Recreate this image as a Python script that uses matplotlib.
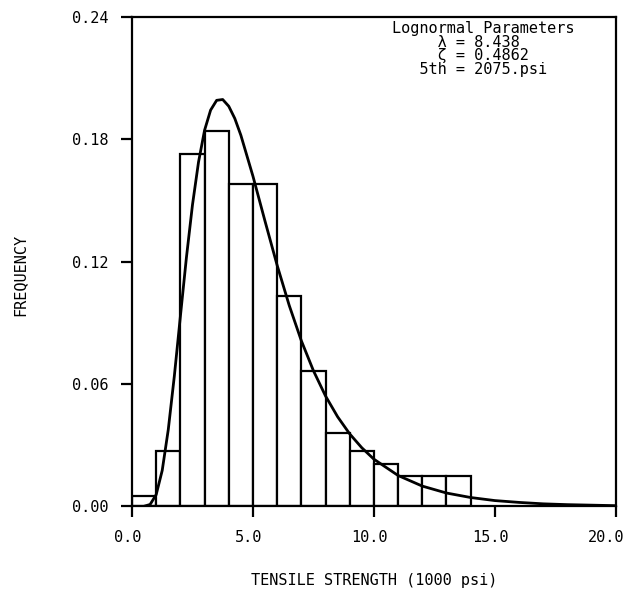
#!/usr/bin/python
# tensile strength histogram with lognormal fit

import matplotlib
matplotlib.use('Agg')
import matplotlib.pyplot as plt
import matplotlib.transforms as mtransforms

# histogram bins (1000 psi) and frequencies
bin_left = [0, 1, 2, 3, 4, 5, 6, 7, 8, 9, 10, 11, 12, 13]
freq = [0.005, 0.027, 0.173, 0.184, 0.158, 0.158, 0.103, 0.0665, 0.036, 0.027, 0.021, 0.015, 0.015, 0.015]

# fitted lognormal curve
curve_x = [0.5, 0.75, 1.0, 1.25, 1.5, 1.75, 2.0, 2.25, 2.5, 2.75, 3.0, 3.25, 3.5, 3.75,
           4.0, 4.25, 4.5, 5.0, 5.5, 6.0, 6.5, 7.0, 7.5, 8.0, 8.5, 9.0, 9.5, 10.0,
           11.0, 12.0, 13.0, 14.0, 15.0, 16.0, 17.0, 18.0, 20.0]
curve_y = [0.0001, 0.0010, 0.0058, 0.0177, 0.0377, 0.0639, 0.0932, 0.1221, 0.1479, 0.1689,
           0.1845, 0.1944, 0.1992, 0.1996, 0.1963, 0.1903, 0.1821, 0.1620, 0.1399, 0.1183,
           0.0986, 0.0813, 0.0666, 0.0542, 0.0440, 0.0356, 0.0288, 0.0232,
           0.0152, 0.0100, 0.0066, 0.0044, 0.0029, 0.0020, 0.0013, 0.0009, 0.0004]

xticks = [0.0, 5.0, 10.0, 15.0, 20.0]
yticks = [0.00, 0.06, 0.12, 0.18, 0.24]

param_block = ('Lognormal Parameters\n'
               '     \u03bb = 8.438\n'
               '     \u03b6 = 0.4862\n'
               '   5th = 2075.psi')

plt.rcParams['font.family'] = ['DejaVu Sans Mono']

fig = plt.figure(figsize=(6.3, 5.91), dpi=100)
ax = fig.add_axes([0.2095, 0.143, 0.768, 0.828])

# histogram bars
ax.bar(bin_left, freq, width=1.0, align='edge', color='white', edgecolor='black', linewidth=1.6, zorder=2)

# lognormal curve
ax.plot(curve_x, curve_y, color='black', linewidth=2.0, zorder=3)

ax.set_xlim(0, 20)
ax.set_ylim(0, 0.24)
ax.set_xticks(xticks)
ax.set_xticklabels(['%.1f' % t for t in xticks])
ax.set_yticks(yticks)
ax.set_yticklabels(['%.2f' % t for t in yticks])
ax.tick_params(direction='out', length=8, width=1.6, labelsize=11, pad=9)

# x tick labels sit a little left of their ticks
xlabs = ax.get_xticklabels()
for i, lab in enumerate(xlabs):
	dx = -10 if i == len(xlabs) - 1 else -4
	lab.set_transform(lab.get_transform() + mtransforms.ScaledTranslation(dx / 100.0, 0, fig.dpi_scale_trans))

for s in ax.spines.values():
	s.set_linewidth(1.6)

ax.set_xlabel('TENSILE STRENGTH (1000 psi)', fontsize=11, labelpad=20)
ax.set_ylabel('FREQUENCY', fontsize=11)
ax.yaxis.set_label_coords(-0.217, 0.473)

# parameter block
ax.text(10.74, 0.238, param_block, fontsize=11, va='top', ha='left', linespacing=0.88)

fig.savefig('out.png', dpi=100)
